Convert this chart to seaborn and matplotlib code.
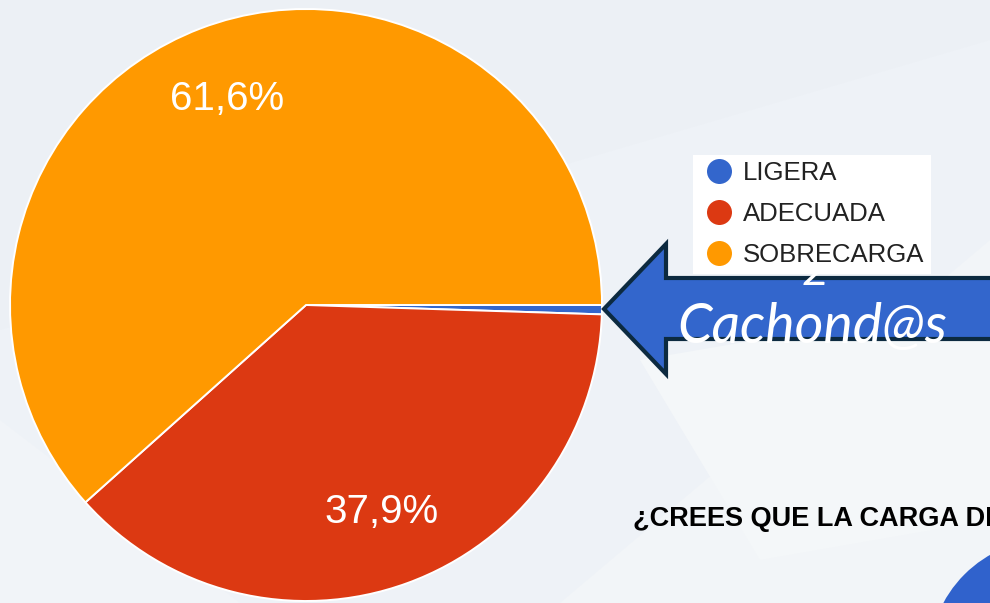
import seaborn as sns
import matplotlib
matplotlib.use("Agg")
import matplotlib.pyplot as plt
from matplotlib.patches import Polygon, Circle
from matplotlib.lines import Line2D

# Survey answers: perceived workload
categories = ["LIGERA", "ADECUADA", "SOBRECARGA"]
responses = [2, 150, 244]
slice_colors = ["#3366CC", "#DC3912", "#FF9900"]

arrow_label_top = "2"
arrow_label_bottom = "Cachond@s"
question = "¿CREES QUE LA CARGA DE"

sns.set_theme(style="white")
plt.rcParams["font.family"] = ["Liberation Sans", "DejaVu Sans"]

W, H = 990, 603
fig = plt.figure(figsize=(W / 100, H / 100), dpi=100)
fig.patch.set_facecolor("#eef2f7")
ax = fig.add_axes([0, 0, 1, 1])
ax.set_xlim(0, W)
ax.set_ylim(H, 0)          # pixel-like coordinates, y grows downward
ax.set_aspect("equal")
ax.axis("off")
ax.set_facecolor("#eef2f7")

# faint geometric backdrop
for pts, col in [
    ([(0, 0), (990, 0), (990, 40), (0, 330)], "#ecf0f5"),
    ([(560, 603), (990, 240), (990, 603)], "#f2f5f8"),
    ([(0, 603), (0, 420), (240, 603)], "#f1f4f8"),
    ([(640, 360), (990, 300), (990, 520), (760, 560)], "#f4f7f9"),
]:
    ax.add_patch(Polygon(pts, closed=True, facecolor=col, edgecolor="none", zorder=0))


def pct_fmt(p):
    return "" if p < 1 else f"{p:.1f}".replace(".", ",") + "%"


palette = sns.color_palette(slice_colors)
wedges, texts, autotexts = ax.pie(
    responses,
    colors=palette,
    startangle=0,
    counterclock=True,       # y axis is inverted, so this runs clockwise on screen
    center=(306, 305),
    radius=296,
    autopct=pct_fmt,
    pctdistance=0.745,
    wedgeprops=dict(edgecolor="white", linewidth=1.4),
    textprops=dict(color="white", fontsize=29),
)
ax.set_xlim(0, W)
ax.set_ylim(H, 0)

# legend
handles = [
    Line2D([0], [0], marker="o", linestyle="none", markersize=18,
           markerfacecolor=c, markeredgecolor="none")
    for c in slice_colors
]
leg = fig.legend(
    handles, categories,
    loc="upper left",
    bbox_to_anchor=(693 / W, 1 - 155 / H),
    frameon=True, fancybox=False, framealpha=1,
    facecolor="white", edgecolor="none",
    fontsize=18.5, labelspacing=0.66,
    handlelength=1.5, handletextpad=0.2,
    borderpad=0.25, borderaxespad=0,
)
for t in leg.get_texts():
    t.set_color("#222222")

# callout arrow
arrow_pts = [(604, 309), (666, 244), (666, 278), (1000, 278),
             (1000, 339), (666, 339), (666, 374)]
ax.add_patch(Polygon(arrow_pts, closed=True, facecolor="#3366CC",
                     edgecolor="#0c2a40", linewidth=3, zorder=5,
                     joinstyle="miter", clip_on=True))
ax.text(815, 272, arrow_label_top, color="white", fontsize=34,
        family=["Lato", "DejaVu Sans"], style="italic",
        ha="center", va="center", zorder=6)
ax.text(812, 328, arrow_label_bottom, color="white", fontsize=40,
        family=["Lato", "DejaVu Sans"], style="italic",
        ha="center", va="center", zorder=6)

# question heading
ax.text(633, 519, question, color="black", fontsize=19.5, fontweight="bold",
        ha="left", va="center", zorder=6)

# decorative disc in the corner
ax.add_patch(Circle((1050, 660), 121, facecolor="#3062CC", edgecolor="none", zorder=4))

fig.savefig("out.png", dpi=100, facecolor=fig.get_facecolor())
